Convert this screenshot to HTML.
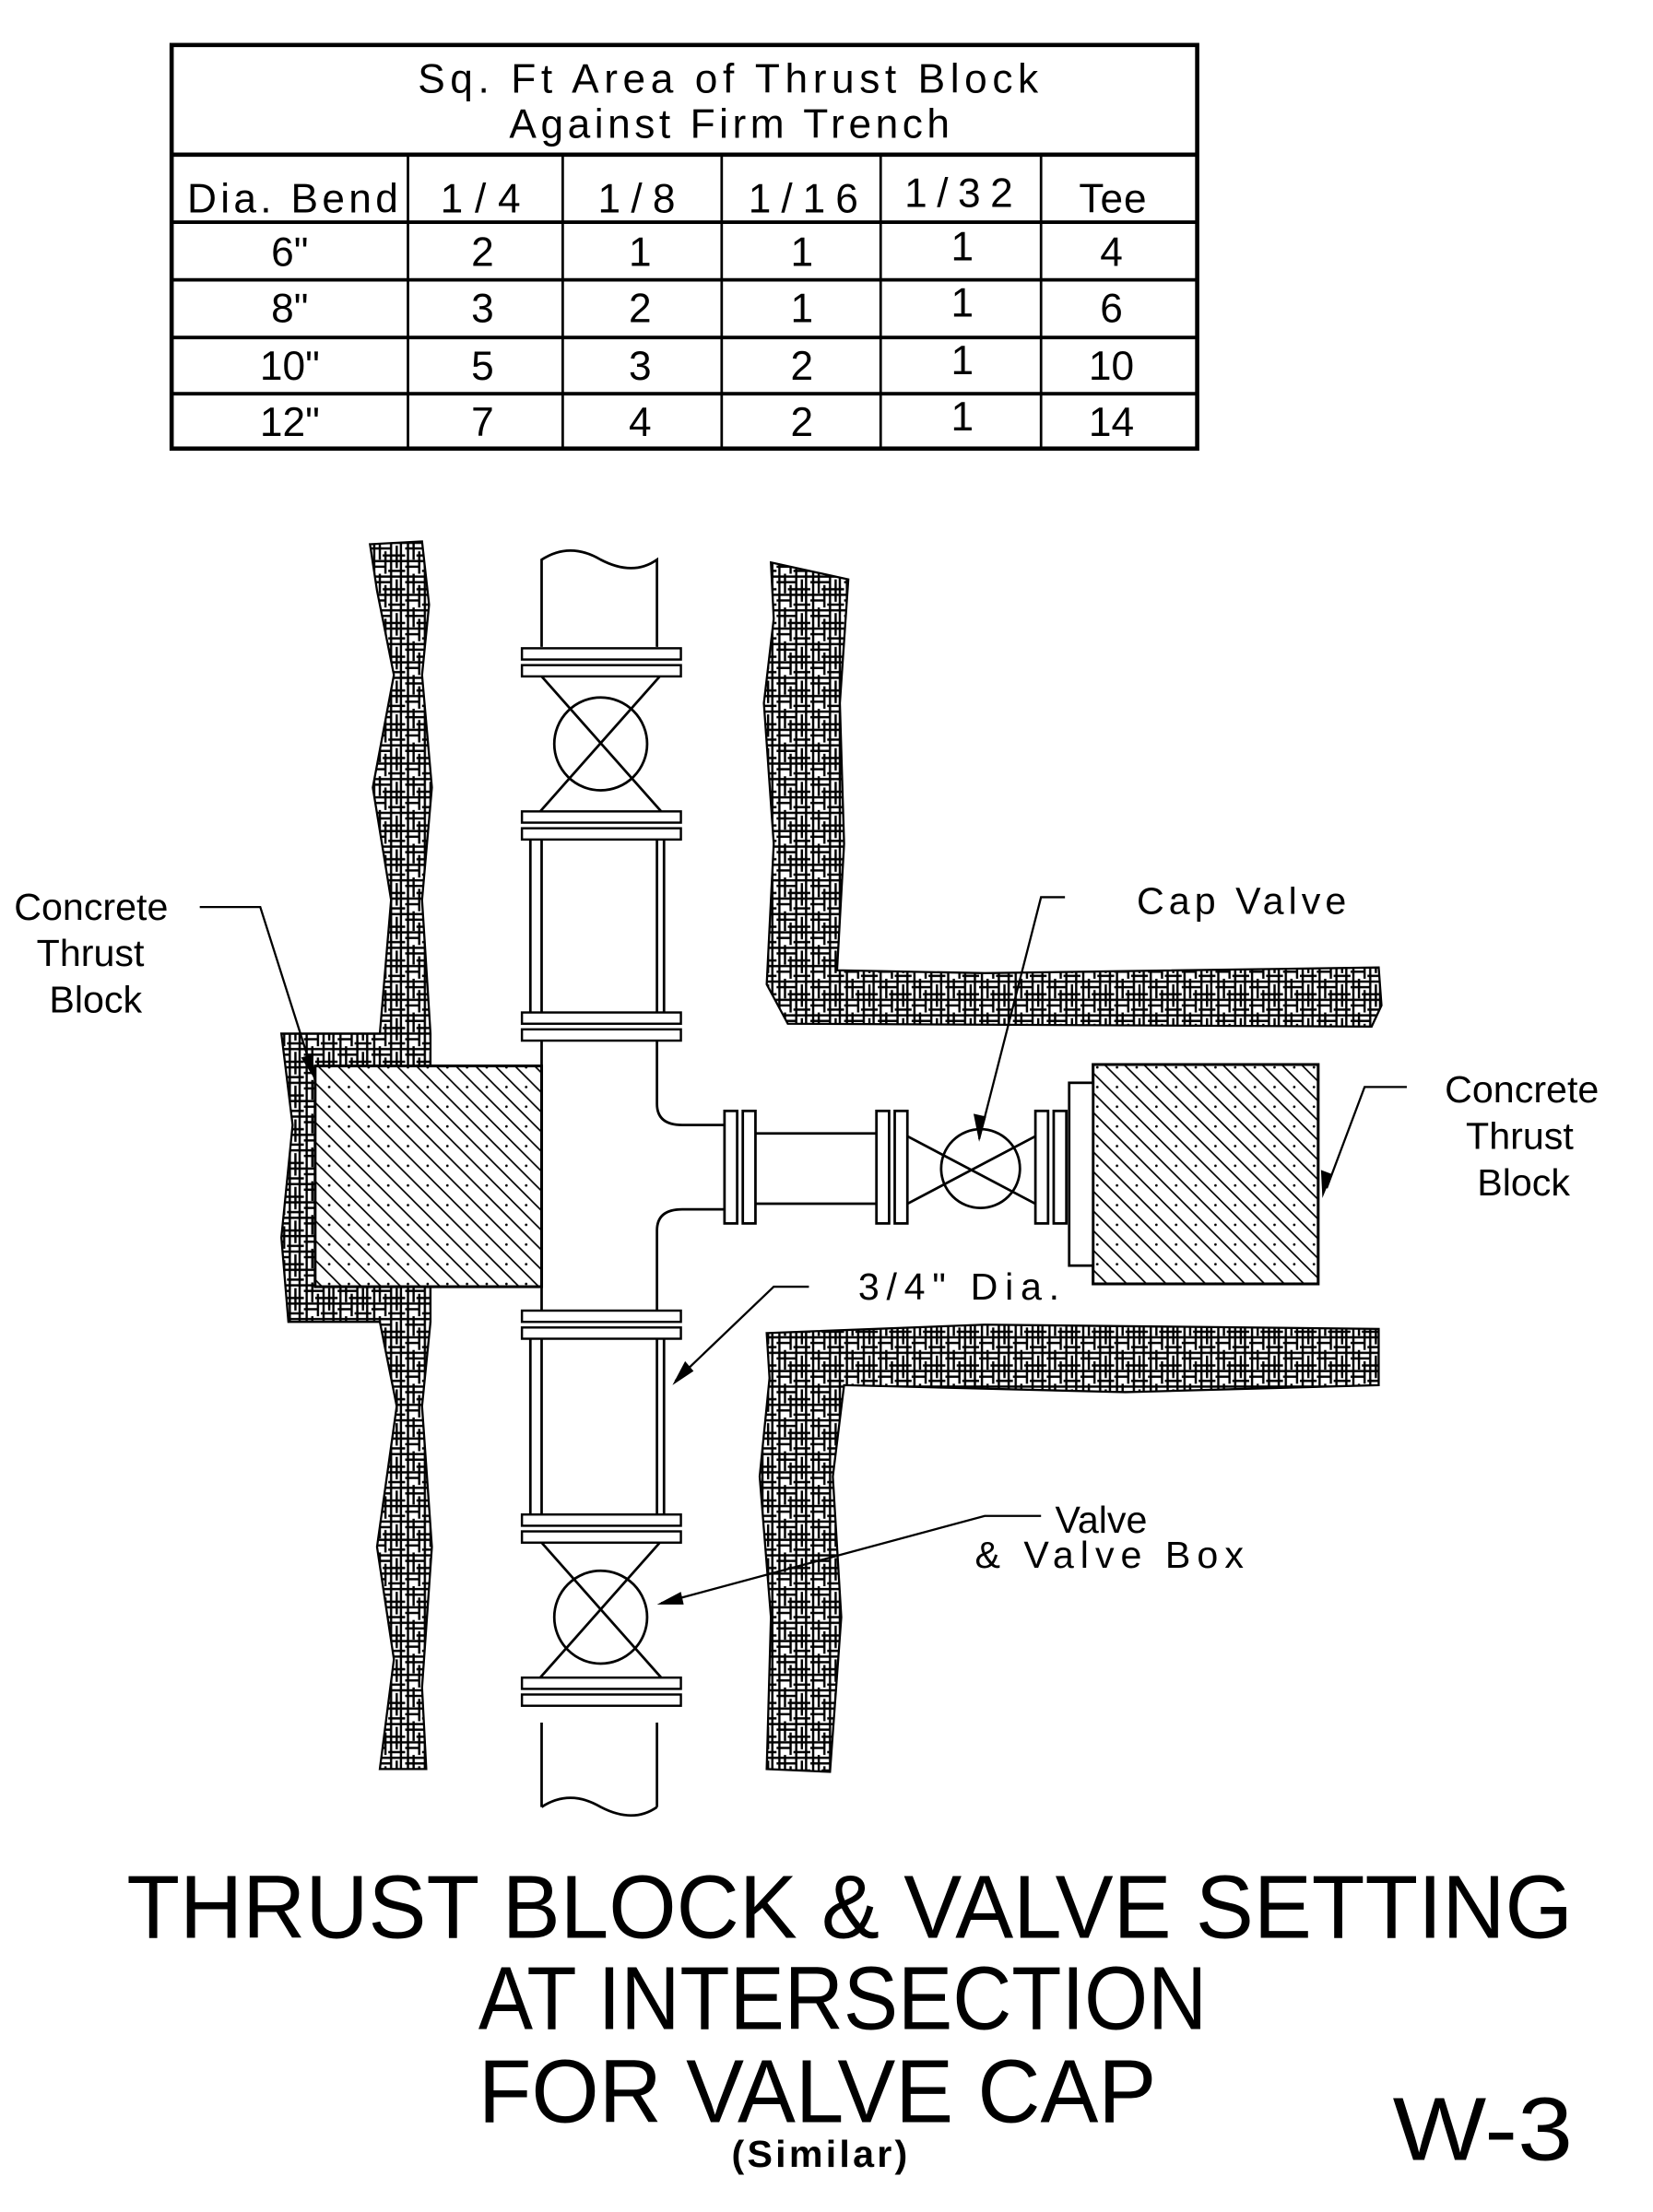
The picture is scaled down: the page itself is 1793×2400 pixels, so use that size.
<!DOCTYPE html>
<html><head><meta charset="utf-8"><style>
html,body{margin:0;padding:0;background:#fff;}
svg{display:block;}
text{font-family:"Liberation Sans",sans-serif;fill:#000;}
</style></head><body>
<svg width="1793" height="2400" viewBox="0 0 1175 1573" preserveAspectRatio="none" xmlns="http://www.w3.org/2000/svg">
<defs>
<pattern id="soil" width="24" height="24" patternUnits="userSpaceOnUse">
<g stroke="#000" stroke-width="1.6">
<line x1="0" y1="2" x2="24" y2="2"/><line x1="0" y1="6" x2="14" y2="6"/><line x1="8" y1="11" x2="24" y2="11"/>
<line x1="0" y1="15" x2="24" y2="15"/><line x1="0" y1="19" x2="10" y2="19"/><line x1="12" y1="22" x2="24" y2="22"/>
<line x1="2" y1="0" x2="2" y2="24"/><line x1="6" y1="0" x2="6" y2="14"/><line x1="10" y1="8" x2="10" y2="24"/>
<line x1="14" y1="0" x2="14" y2="24"/><line x1="18" y1="4" x2="18" y2="20"/><line x1="21" y1="0" x2="21" y2="24"/>
</g></pattern>
<pattern id="conc" width="14" height="14" patternUnits="userSpaceOnUse">
<g stroke="#000" stroke-width="1.1"><line x1="0" y1="0" x2="14" y2="14"/><line x1="-7" y1="7" x2="7" y2="21"/><line x1="7" y1="-7" x2="21" y2="7"/></g>
<circle cx="10" cy="3" r="0.9" fill="#000"/>
</pattern>
</defs>

<!-- table -->
<g fill="none" stroke="#000">
<rect x="122" y="32" width="729" height="287" stroke-width="3"/>
<line x1="122" y1="110" x2="851" y2="110" stroke-width="3"/>
<line x1="122" y1="158" x2="851" y2="158" stroke-width="2.5"/>
<line x1="122" y1="199" x2="851" y2="199" stroke-width="2.5"/>
<line x1="122" y1="240" x2="851" y2="240" stroke-width="2.5"/>
<line x1="122" y1="280" x2="851" y2="280" stroke-width="2.5"/>
<g stroke-width="1.8">
<line x1="290" y1="110" x2="290" y2="319"/><line x1="400" y1="110" x2="400" y2="319"/>
<line x1="513" y1="110" x2="513" y2="319"/><line x1="626" y1="110" x2="626" y2="319"/>
<line x1="740" y1="110" x2="740" y2="319"/></g>
</g>
<g font-size="29">
<text x="297" y="66" textLength="441">Sq. Ft Area of Thrust Block</text>
<text x="362" y="98" textLength="313">Against Firm Trench</text>
<text x="133" y="151" textLength="150">Dia. Bend</text>
<text x="313" y="151" textLength="57">1/4</text>
<text x="425" y="151" textLength="55">1/8</text>
<text x="532" y="151" textLength="78">1/16</text>
<text x="643" y="147" textLength="77">1/32</text>
<text x="767" y="151" textLength="48">Tee</text>
</g>
<g font-size="29" text-anchor="middle">
<text x="206" y="189">6"</text><text x="343" y="189">2</text><text x="455" y="189">1</text><text x="570" y="189">1</text><text x="684" y="185">1</text><text x="790" y="189">4</text>
<text x="206" y="229">8"</text><text x="343" y="229">3</text><text x="455" y="229">2</text><text x="570" y="229">1</text><text x="684" y="225">1</text><text x="790" y="229">6</text>
<text x="206" y="270">10"</text><text x="343" y="270">5</text><text x="455" y="270">3</text><text x="570" y="270">2</text><text x="684" y="266">1</text><text x="790" y="270">10</text>
<text x="206" y="310">12"</text><text x="343" y="310">7</text><text x="455" y="310">4</text><text x="570" y="310">2</text><text x="684" y="306">1</text><text x="790" y="310">14</text>
</g>

<!-- soil -->
<g fill="url(#soil)" stroke="#000" stroke-width="1.5">
<polygon points="263,387 300,385 305,430 300,480 307,560 300,640 306,735 306,940 300,1000 307,1100 300,1200 303,1258 270,1258 280,1180 268,1100 282,1000 270,940 205,940 200,880 208,800 200,735 270,735 278,640 265,560 280,480 268,420"/>
<polygon points="548,400 603,412 597,500 600,600 595,690 700,692 980,688 982,715 975,730 560,728 545,700 550,600 543,500 550,440"/>
<polygon points="545,948 700,942 980,945 980,985 800,990 600,985 592,1050 598,1150 590,1260 545,1258 548,1150 540,1050 547,980"/>
</g>

<!-- thrust blocks -->
<rect x="224" y="758" width="161" height="157" fill="#fff"/>
<rect x="224" y="758" width="161" height="157" fill="url(#conc)" stroke="#000" stroke-width="2"/>
<rect x="777" y="757" width="160" height="156" fill="#fff"/>
<rect x="777" y="757" width="160" height="156" fill="url(#conc)" stroke="#000" stroke-width="2"/>

<g fill="none" stroke="#000" stroke-width="1.8">
<!-- top pipe -->
<path d="M385,460 L385,398 Q405,385 427,398 Q450,410 467,398 L467,460"/>
<path d="M385,1285 L385,1225 M467,1225 L467,1285 M385,1285 Q405,1272 427,1285 Q450,1297 467,1285"/>
<!-- flanges -->
<g fill="#fff" stroke-width="1.6">
<rect x="371" y="461" width="113" height="8"/><rect x="371" y="473" width="113" height="8"/>
<rect x="371" y="577" width="113" height="8"/><rect x="371" y="589" width="113" height="8"/>
<rect x="371" y="720" width="113" height="8"/><rect x="371" y="732" width="113" height="8"/>
<rect x="371" y="932" width="113" height="8"/><rect x="371" y="944" width="113" height="8"/>
<rect x="371" y="1077" width="113" height="8"/><rect x="371" y="1089" width="113" height="8"/>
<rect x="371" y="1193" width="113" height="8"/><rect x="371" y="1205" width="113" height="8"/>
</g>
<!-- pipe between flanges -->
<line x1="385" y1="597" x2="385" y2="720"/><line x1="467" y1="597" x2="467" y2="720"/>
<line x1="377" y1="597" x2="377" y2="720"/><line x1="472" y1="597" x2="472" y2="720"/>
<line x1="385" y1="952" x2="385" y2="1077"/><line x1="467" y1="952" x2="467" y2="1077"/>
<line x1="377" y1="952" x2="377" y2="1077"/><line x1="472" y1="952" x2="472" y2="1077"/>
<line x1="385" y1="740" x2="385" y2="932"/>
<path d="M467,740 L467,785 Q467,800 485,800 L515,800"/>
<path d="M467,932 L467,875 Q467,860 485,860 L515,860"/>
<!-- valves -->
<circle cx="427" cy="529" r="33"/>
<line x1="385" y1="481" x2="470" y2="577"/><line x1="469" y1="481" x2="384" y2="577"/>
<circle cx="427" cy="1150" r="33"/>
<line x1="385" y1="1097" x2="470" y2="1193"/><line x1="469" y1="1097" x2="384" y2="1193"/>
<!-- branch -->
<g fill="#fff"><rect x="515" y="790" width="9" height="80"/><rect x="528" y="790" width="9" height="80"/>
<rect x="623" y="790" width="9" height="80"/><rect x="636" y="790" width="9" height="80"/>
<rect x="736" y="790" width="9" height="80"/><rect x="749" y="790" width="9" height="80"/>
<rect x="760" y="770" width="17" height="130"/></g>
<line x1="537" y1="806" x2="623" y2="806"/><line x1="537" y1="856" x2="623" y2="856"/>
<circle cx="697" cy="831" r="28"/>
<line x1="645" y1="808" x2="736" y2="856"/><line x1="645" y1="856" x2="736" y2="808"/>
</g>

<!-- leaders -->
<g fill="none" stroke="#000" stroke-width="1.5">
<polyline points="142,645 185,645 224,768"/>
<polyline points="757,638 740,638 696,810"/>
<polyline points="1000,773 970,773 943,845"/>
<polyline points="575,915 550,915 480,982"/>
<polyline points="740,1078 700,1078 470,1140"/>
</g>
<g fill="#000">
<polygon points="224,768 214,752 222,750"/>
<polygon points="696,812 692,792 701,794"/>
<polygon points="940,852 939,832 947,835"/>
<polygon points="478,985 487,968 493,975"/>
<polygon points="467,1141 484,1132 486,1141"/>
</g>

<g font-size="27">
<text x="10" y="654">Concrete</text><text x="26" y="687">Thrust</text><text x="35" y="720">Block</text>
<text x="808" y="650" textLength="149">Cap Valve</text>
<text x="1027" y="784">Concrete</text><text x="1042" y="817">Thrust</text><text x="1050" y="850">Block</text>
<text x="610" y="924" textLength="143">3/4" Dia.</text>
<text x="750" y="1090">Valve</text><text x="693" y="1115" textLength="191">&amp; Valve Box</text>
</g>

<!-- title -->
<g font-size="64">
<text x="90" y="1378" textLength="1028" lengthAdjust="spacingAndGlyphs">THRUST BLOCK &amp; VALVE SETTING</text>
<text x="340" y="1443" textLength="518" lengthAdjust="spacingAndGlyphs">AT INTERSECTION</text>
<text x="340" y="1509" textLength="482" lengthAdjust="spacingAndGlyphs">FOR VALVE CAP</text>
<text x="990" y="1536" textLength="128" lengthAdjust="spacingAndGlyphs">W-3</text>
</g>
<text x="520" y="1541" font-size="27" font-weight="bold" textLength="125">(Similar)</text>
</svg>
</body></html>
